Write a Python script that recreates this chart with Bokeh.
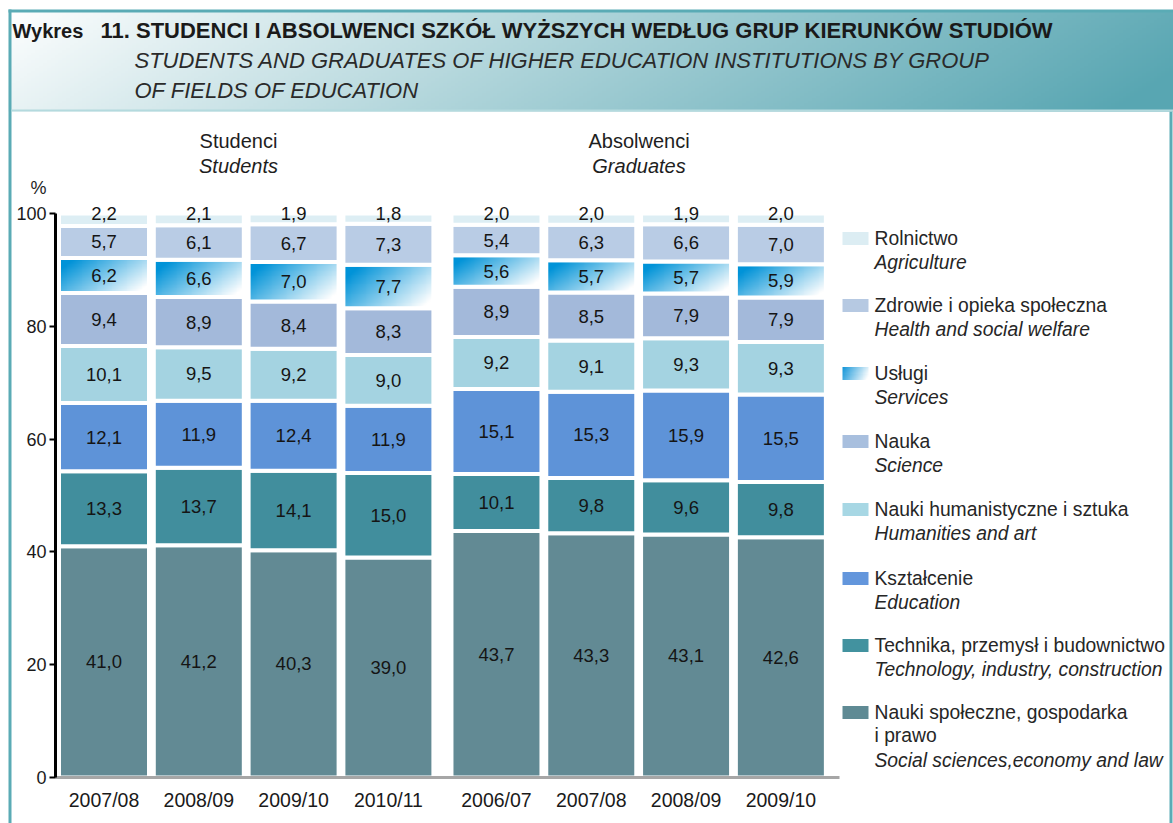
import numpy as np
from bokeh.plotting import figure
from bokeh.models import Range1d, FixedTicker, ColumnDataSource, Label, BoxAnnotation
from bokeh.core.properties import value
from bokeh.embed import file_html
from bokeh.resources import INLINE

# ---------------- data ----------------
years = ["2007/08", "2008/09", "2009/10", "2010/11", "2006/07", "2007/08", "2008/09", "2009/10"]
group_index = [0, 0, 0, 0, 1, 1, 1, 1]

social = [41.0, 41.2, 40.3, 39.0, 43.7, 43.3, 43.1, 42.6]
technology = [13.3, 13.7, 14.1, 15.0, 10.1, 9.8, 9.6, 9.8]
education = [12.1, 11.9, 12.4, 11.9, 15.1, 15.3, 15.9, 15.5]
humanities = [10.1, 9.5, 9.2, 9.0, 9.2, 9.1, 9.3, 9.3]
science = [9.4, 8.9, 8.4, 8.3, 8.9, 8.5, 7.9, 7.9]
services = [6.2, 6.6, 7.0, 7.7, 5.6, 5.7, 5.7, 5.9]
health = [5.7, 6.1, 6.7, 7.3, 5.4, 6.3, 6.6, 7.0]
agriculture = [2.2, 2.1, 1.9, 1.8, 2.0, 2.0, 1.9, 2.0]

series_bottom_up = [social, technology, education, humanities, science, services, health, agriculture]
series_colors = ["#628a94", "#418e9d", "#5e93d8", "#a4d3e1", "#a3b9da", None, "#b9cce5", "#ddeef4"]

legend_pl = ["Rolnictwo", "Zdrowie i opieka społeczna", "Usługi", "Nauka",
             "Nauki humanistyczne i sztuka", "Kształcenie",
             "Technika, przemysł i budownictwo", "Nauki społeczne, gospodarka"]
legend_pl_extra = "i prawo"
legend_en = ["Agriculture", "Health and social welfare", "Services", "Science",
             "Humanities and art", "Education", "Technology, industry, construction",
             "Social sciences,economy and law"]
legend_colors = ["#dcedf3", "#b6c9e2", None, "#a8bfde", "#a7d7e4", "#6396dc", "#42929f", "#5f8a94"]

y_ticks = [0, 20, 40, 60, 80, 100]

FONT = "Liberation Sans"

# ---------------- layout constants (page pixels) ----------------
W, H = 1173, 823
PITCH = 94.8
C0 = 103.5          # page x of first bar centre
GAP = 0.14
positions = [round(i + GAP * g, 2) for i, g in enumerate(group_index)]
PXU = 5.64          # pixels per percent
Y0 = 777            # page y of 0 %
BW = 90 / PITCH

p = figure(width=W, height=H,
           x_range=Range1d(-C0 / PITCH, (W - C0) / PITCH),
           y_range=Range1d(-(H - Y0) / PXU, Y0 / PXU),
           output_backend="svg", toolbar_location=None,
           min_border_left=0, min_border_right=0, min_border_top=0, min_border_bottom=0)
p.extra_x_ranges = {"px": Range1d(0, W)}
p.extra_y_ranges = {"py": Range1d(-H, 0)}
p.outline_line_color = None
p.xgrid.visible = False
p.ygrid.visible = False
p.background_fill_color = "white"
p.border_fill_color = "white"


def rgba_image(h, w, fn):
    img = np.empty((h, w), dtype=np.uint32)
    view = img.view(dtype=np.uint8).reshape((h, w, 4))
    u = np.linspace(0, 1, w)[None, :] * np.ones((h, 1))
    v = np.linspace(1, 0, h)[:, None] * np.ones((1, w))   # v = 0 at top
    r, g, b = fn(u, v)
    view[..., 0] = np.clip(r, 0, 255).astype(np.uint8)
    view[..., 1] = np.clip(g, 0, 255).astype(np.uint8)
    view[..., 2] = np.clip(b, 0, 255).astype(np.uint8)
    view[..., 3] = 255
    return img


def services_fn(u, v):
    t = np.clip((0.8 * u + 0.45 * v - 0.15) / 1.0, 0, 1)
    blue = np.array([0, 147, 216])
    return [blue[k] * (1 - t) + 255 * t for k in range(3)]


def swatch_fn(u, v):
    t = np.clip(0.85 * u + 0.2 * v, 0, 1)
    blue = np.array([20, 150, 217])
    return [blue[k] * (1 - t) + 255 * t for k in range(3)]


def title_fn(u, v):
    t = np.clip(0.92 * u + 0.12 * v, 0, 1) ** 0.95
    teal = np.array([88, 166, 178])
    return [255 * (1 - t) + teal[k] * t for k in range(3)]


def box(l, r, t, b, col):
    p.add_layout(BoxAnnotation(left=l, right=r, top=-t, bottom=-b, fill_color=col,
                               fill_alpha=1, line_color=None,
                               x_range_name="px", y_range_name="py"))


def label(x, y, text, size, style="normal", align="left", color="#1e1e1e"):
    p.add_layout(Label(x=x, y=-y, text=text, x_range_name="px", y_range_name="py",
                       text_font=FONT, text_font_size=size, text_font_style=style,
                       text_color=color, text_align=align, text_baseline="middle"))


# ---------------- title box & frame ----------------
p.image_rgba(image=[rgba_image(40, 300, title_fn)], x=8, y=-111, dw=W - 8, dh=101,
             x_range_name="px", y_range_name="py")
frame_col = "#5aabb5"
box(8, 11, 9, H, frame_col)
box(1169, 1172, 111, H, frame_col)
box(8, W, 9, 12, frame_col)
box(11, W, 109, 111, "#b4dade")

label(12, 30, "Wykres", "20px", "bold", color="#1a1a1a")
label(100, 30, "11. STUDENCI I ABSOLWENCI SZKÓŁ WYŻSZYCH WEDŁUG GRUP KIERUNKÓW STUDIÓW",
      "22px", "bold", color="#1a1a1a")
label(134, 60, "STUDENTS AND GRADUATES OF HIGHER EDUCATION INSTITUTIONS BY GROUP",
      "22px", "italic", color="#2a2a2a")
label(134, 90, "OF FIELDS OF EDUCATION", "22px", "italic", color="#2a2a2a")

for cx, t1, t2 in [(238, "Studenci", "Students"), (638.5, "Absolwenci", "Graduates")]:
    label(cx, 140, t1, "20px", align="center")
    label(cx, 165, t2, "20px", "italic", align="center")

label(38, 187, "%", "18px", align="center")

# ---------------- stacked bars ----------------
grad = rgba_image(48, 96, services_fn)
bottom = np.zeros(len(years))
label_x, label_y, label_t = [], [], []
for k, (vals, col) in enumerate(zip(series_bottom_up, series_colors)):
    vals = np.array(vals)
    top = bottom + vals
    src = ColumnDataSource(dict(x=positions, bottom=bottom, top=top))
    if col is None:
        p.image_rgba(image=[grad] * len(years), x=[px - BW / 2 for px in positions],
                     y=list(bottom), dw=[BW] * len(years), dh=list(vals))
        p.vbar(x="x", bottom="bottom", top="top", width=BW, source=src,
               fill_alpha=0, line_color="white", line_width=4)
    else:
        p.vbar(x="x", bottom="bottom", top="top", width=BW, source=src,
               fill_color=col, line_color="white", line_width=4)
    for i in range(len(years)):
        label_x.append(positions[i])
        if k == len(series_bottom_up) - 1:
            label_y.append(top[i])
        else:
            label_y.append(bottom[i] + vals[i] / 2)
        label_t.append(f"{vals[i]:.1f}".replace(".", ","))
    bottom = top

p.text(x=label_x, y=label_y, text=label_t, text_font=value(FONT), text_font_size="18.5px",
       text_color="#151515", text_align="center", text_baseline="middle")

# ---------------- legend ----------------
leg_y = [238, 305, 373, 441, 509, 578, 645, 712]
for cy, col in zip(leg_y, legend_colors):
    if col is None:
        p.image_rgba(image=[rgba_image(12, 40, swatch_fn)], x=842, y=-(cy + 6.5), dw=26, dh=13,
                     x_range_name="px", y_range_name="py")
    else:
        p.quad(left=842, right=868, top=-(cy - 6.5), bottom=-(cy + 6.5), fill_color=col,
               line_color=None, x_range_name="px", y_range_name="py")
leg_en_y = [cy + 24 for cy in leg_y]
leg_en_y[-1] = leg_y[-1] + 48
LEG_SIZE = "19.3px"
p.text(x=[874] * len(leg_y), y=[-cy for cy in leg_y], text=legend_pl,
       text_font=value(FONT), text_font_size=LEG_SIZE, text_color="#262626",
       text_baseline="middle", x_range_name="px", y_range_name="py")
p.text(x=[874], y=[-(leg_y[-1] + 23)], text=[legend_pl_extra],
       text_font=value(FONT), text_font_size=LEG_SIZE, text_color="#262626",
       text_baseline="middle", x_range_name="px", y_range_name="py")
p.text(x=[874] * len(leg_y), y=[-cy for cy in leg_en_y], text=legend_en,
       text_font=value(FONT), text_font_size=LEG_SIZE, text_font_style="italic",
       text_color="#262626", text_baseline="middle", x_range_name="px", y_range_name="py")

# ---------------- axes (drawn at fixed locations inside the frame) ----------------
p.yaxis.fixed_location = (55 - C0) / PITCH
p.yaxis.ticker = FixedTicker(ticks=y_ticks)
p.yaxis.bounds = (0, 100)
p.yaxis.axis_line_color = "black"
p.yaxis.axis_line_width = 3
p.yaxis.major_tick_out = 6
p.yaxis.major_tick_in = 0
p.yaxis.major_tick_line_width = 2
p.yaxis.minor_tick_line_color = None
p.yaxis.major_label_text_font = FONT
p.yaxis.major_label_text_font_size = "18px"
p.yaxis.major_label_text_color = "#1a1a1a"
p.yaxis.major_label_standoff = 3

p.xaxis.fixed_location = 0
p.xaxis.ticker = FixedTicker(ticks=positions)
p.xaxis.major_label_overrides = {pos: y for pos, y in zip(positions, years)}
p.xaxis.bounds = ((55 - C0) / PITCH, (839 - C0) / PITCH)
p.xaxis.axis_line_color = "#a6a6a6"
p.xaxis.axis_line_width = 3
p.xaxis.major_tick_line_color = None
p.xaxis.minor_tick_line_color = None
p.xaxis.major_label_text_font = FONT
p.xaxis.major_label_text_font_size = "19.5px"
p.xaxis.major_label_text_color = "#1a1a1a"
p.xaxis.major_label_standoff = 5

open("out.html", "w").write(file_html(p, INLINE))
